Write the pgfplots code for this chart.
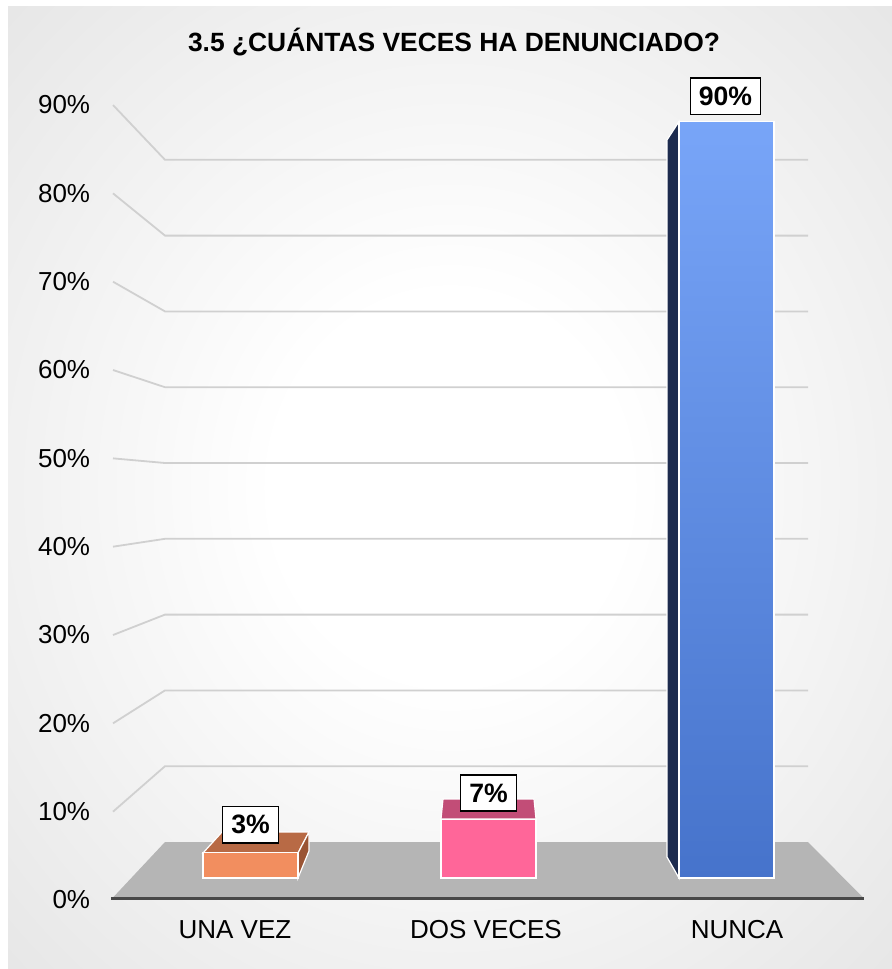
\documentclass[border=0pt]{standalone}
\usepackage{pgfplots}
\pgfplotsset{compat=1.18}
\usepackage{fontspec}
\setmainfont{Liberation Sans}
\definecolor{oraF}{HTML}{F28E5F}
\definecolor{oraT}{HTML}{B86A45}
\definecolor{oraS}{HTML}{9A5434}
\definecolor{pinkF}{HTML}{FF6699}
\definecolor{pinkT}{HTML}{C24D77}
\definecolor{blueT}{HTML}{78A5F8}
\definecolor{blueB}{HTML}{4673CB}
\definecolor{blueS}{HTML}{1D2B4E}
\definecolor{gridc}{HTML}{D0D0D0}
\definecolor{floorc}{HTML}{B5B5B5}
\definecolor{axc}{HTML}{484848}
\pgfdeclareradialshading{bgshade}{\pgfpoint{0bp}{0bp}}{color(0bp)=(white); color(10bp)=(white); color(50bp)=(black!15); color(71bp)=(black!22); color(100bp)=(black!22)}
\begin{document}
\begin{tikzpicture}
% canvas in pixel units (y downwards)
\begin{axis}[at={(0pt,0pt)}, anchor=south west, scale only axis,
  width=446pt, height=484.5pt, xmin=0, xmax=892, ymin=0, ymax=969,
  y dir=reverse, hide axis, clip=false]
\fill[white] (axis cs:0,0) rectangle (axis cs:892,969);
\shade[shading=bgshade] (axis cs:8,6) rectangle (axis cs:892,969);
\pgfplotsinvokeforeach{1,...,9}{
  \draw[gridc, line width=0.9pt] (axis cs:113,{900-88.33*#1}) -- (axis cs:165,{842-75.8*#1}) -- (axis cs:808,{842-75.8*#1});
}
\fill[floorc] (axis cs:113,897.5) -- (axis cs:165,842) -- (axis cs:808,842) -- (axis cs:863,897.5) -- cycle;
\draw[axc, line width=1.5pt] (axis cs:111,898.5) -- (axis cs:864,898.5);
% bar depth faces
\filldraw[fill=oraT, draw=white, line width=0.6pt] (axis cs:203,853) -- (axis cs:298,853) -- (axis cs:309,832) -- (axis cs:222,832) -- cycle;
\filldraw[fill=oraS, draw=white, line width=0.6pt] (axis cs:298,853) -- (axis cs:309,832) -- (axis cs:309,851) -- (axis cs:298,878) -- cycle;
\filldraw[fill=pinkT, draw=white, line width=0.6pt] (axis cs:441,819) -- (axis cs:536,819) -- (axis cs:534,799) -- (axis cs:443,799) -- cycle;
\filldraw[fill=blueS, draw=white, line width=0.6pt] (axis cs:679,121.5) -- (axis cs:667,140) -- (axis cs:667,857) -- (axis cs:679,878) -- cycle;
\node[anchor=base, font=\bfseries\fontsize{13.2}{15}\selectfont] at (axis cs:454,51) {3.5 ¿CUÁNTAS VECES HA DENUNCIADO?};
\end{axis}
% front plane: tick labels
\begin{axis}[at={(54.75pt,34.5pt)}, anchor=south west, scale only axis,
  width=376.5pt, height=397.5pt, xmin=-0.5, xmax=2.5, ymin=0, ymax=90,
  axis line style={draw=none}, major tick length=0pt, tick style={draw=none},
  xtick={0,1,2}, xticklabels={UNA VEZ,DOS VECES,NUNCA},
  ytick={0,10,20,30,40,50,60,70,80,90},
  yticklabels={0\%,10\%,20\%,30\%,40\%,50\%,60\%,70\%,80\%,90\%},
  xtick pos=left, ytick pos=left,
  ticklabel style={font=\fontsize{13}{15}\selectfont},
  yticklabel style={anchor=east, inner sep=0pt, xshift=-9.5pt},
  xticklabel style={anchor=center, inner sep=0pt, yshift=-15pt}]
\addplot[draw=none] coordinates {(0,0)};
\end{axis}
% bars (front faces)
\begin{axis}[at={(65.75pt,45.5pt)}, anchor=south west, scale only axis,
  width=357pt, height=378.25pt, xmin=-0.5, xmax=2.5, ymin=0, ymax=90,
  hide axis, clip=false, nodes near coords, point meta=explicit symbolic,
  every node near coord/.append style={fill=white, draw=black, text=black, line width=0.75pt,
    font=\bfseries\fontsize{13.3}{15}\selectfont, inner xsep=4.3pt, inner ysep=4.4pt, anchor=south}]
\addplot[ybar, bar width=47.5pt, bar shift=0pt, fill=oraF, draw=white, line width=0.6pt,
  every node near coord/.append style={yshift=4.6pt}] coordinates {(0,3) [3\%]};
\addplot[ybar, bar width=47.5pt, bar shift=0pt, fill=pinkF, draw=white, line width=0.6pt,
  every node near coord/.append style={yshift=3.6pt}] coordinates {(1,7) [7\%]};
\addplot[ybar, bar width=47.5pt, bar shift=0pt, top color=blueT, bottom color=blueB, draw=white, line width=0.6pt,
  every node near coord/.append style={xshift=-0.5pt, yshift=3.2pt}] coordinates {(2,90) [90\%]};
\end{axis}
\end{tikzpicture}
\end{document}
